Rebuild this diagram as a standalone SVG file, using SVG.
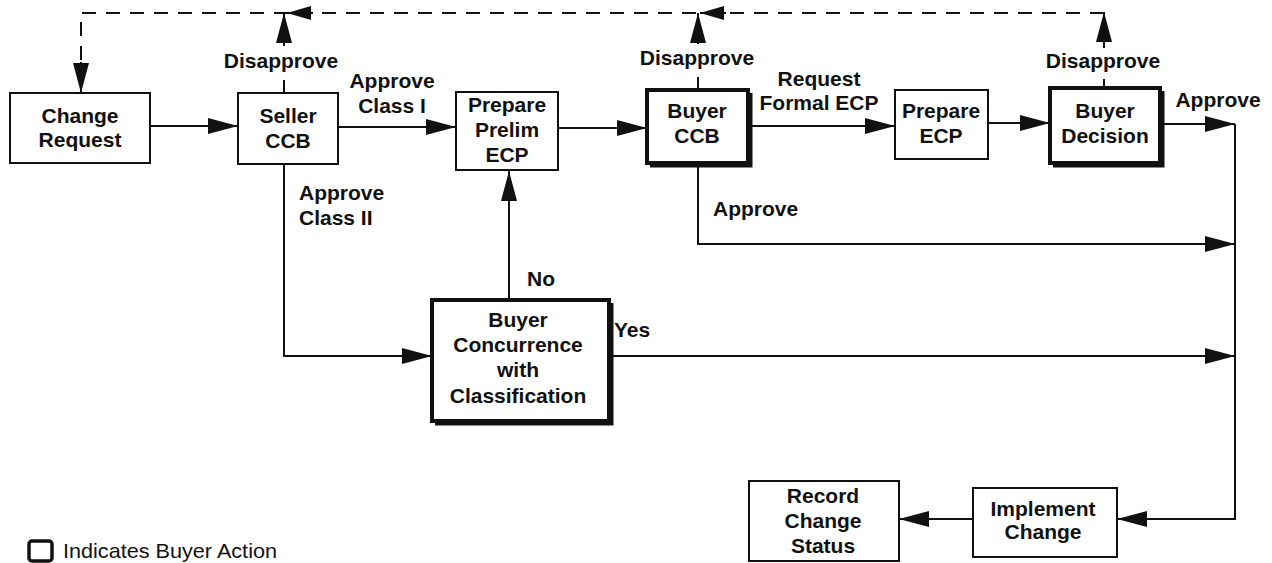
<svg xmlns="http://www.w3.org/2000/svg" width="1272" height="563" viewBox="0 0 1272 563">
<style>
  .t { font-family: "Liberation Sans", Arial, Helvetica, sans-serif; font-weight: bold; font-size: 21px; fill: #111; }
  .c { text-anchor: middle; }
  .box { fill: #fff; stroke: #111; stroke-width: 2; }
  .tbox { fill: #fff; stroke: #111; stroke-width: 4; }
  .shadow { fill: none; stroke: #111; stroke-width: 3; }
  .ln { fill: none; stroke: #111; stroke-width: 2; }
  .dash { fill: none; stroke: #111; stroke-width: 2; stroke-dasharray: 14 10; }
  .arr { marker-end: url(#ah); }
  .arrs { marker-end: url(#ahs); }
  .legend { font-family: "Liberation Sans", Arial, Helvetica, sans-serif; font-size: 21px; fill: #111; }
</style>
<defs>
  <marker id="ah" viewBox="0 0 30 16" markerWidth="30" markerHeight="16" refX="30" refY="8" orient="auto" markerUnits="userSpaceOnUse">
    <path d="M0,0 L30,8 L0,16 Z" fill="#111" stroke="none"/>
  </marker>
  <marker id="ahs" viewBox="0 0 24 14" markerWidth="24" markerHeight="14" refX="24" refY="7" orient="auto" markerUnits="userSpaceOnUse">
    <path d="M0,0 L24,7 L0,14 Z" fill="#111" stroke="none"/>
  </marker>
</defs>
<rect width="1272" height="563" fill="#fff"/>

<g id="connectors">
  <!-- main row -->
  <path class="ln arr" d="M150,126 L238,126"/>
  <path class="ln arr" d="M338,127 L456,127"/>
  <path class="ln arr" d="M558,128 L647,128"/>
  <path class="ln arr" d="M748,126 L895,126"/>
  <path class="ln arr" d="M988,123 L1050,123"/>
  <path class="ln arr" d="M1160,124 L1235,124"/>
  <!-- right trunk -->
  <path class="ln" d="M1235,124 L1235,519 L1145,519"/>
  <path class="ln arr" d="M1150,519 L1117,519"/>
  <path class="ln arr" d="M973,519 L899,519"/>
  <!-- Buyer CCB approve -->
  <path class="ln arr" d="M698,163 L698,244 L1235,244"/>
  <!-- Seller class II -->
  <path class="ln arr" d="M284,164 L284,356 L432,356"/>
  <!-- Yes -->
  <path class="ln arr" d="M609,356 L1235,356"/>
  <!-- No -->
  <path class="ln arr" d="M509,300 L509,171"/>
  <!-- disapprove stubs -->
  <path class="ln" d="M284,93 L284,80"/>
  <path class="ln arr" d="M284,46 L284,13"/>
  <path class="ln" d="M698,90 L698,77"/>
  <path class="ln arr" d="M698,44 L698,13"/>
  <path class="ln" d="M1104,88 L1104,79"/>
  <path class="ln" d="M1104,48 L1104,40"/>
  <path class="ln arr" d="M1104,42 L1104,12"/>
  <!-- dashed feedback -->
  <path class="dash" d="M1104,13 L81,13 L81,66"/>
  <path class="ln arr" d="M81,62 L81,93"/>
  <path class="ln arrs" d="M726,13 L700,13"/>
  <path class="ln arrs" d="M313,13 L287,13"/>
</g>

<g id="change-request">
  <rect class="box" x="10" y="93" width="140" height="70"/>
  <text class="t c" x="80" y="123">Change</text>
  <text class="t c" x="80" y="147">Request</text>
</g>
<g id="seller-ccb">
  <rect class="box" x="238" y="93" width="100" height="71"/>
  <text class="t c" x="288" y="123">Seller</text>
  <text class="t c" x="288" y="148">CCB</text>
</g>
<g id="prepare-prelim-ecp">
  <rect class="box" x="456" y="92" width="102" height="78"/>
  <text class="t c" x="507" y="112">Prepare</text>
  <text class="t c" x="507" y="137">Prelim</text>
  <text class="t c" x="507" y="162">ECP</text>
</g>
<g id="buyer-ccb">
  <path class="shadow" d="M751,93 L751,166 L650,166"/>
  <rect class="tbox" x="647" y="90" width="101" height="73"/>
  <text class="t c" x="697" y="118">Buyer</text>
  <text class="t c" x="697" y="143">CCB</text>
</g>
<g id="prepare-ecp">
  <rect class="box" x="895" y="90" width="93" height="69"/>
  <text class="t c" x="941" y="118">Prepare</text>
  <text class="t c" x="941" y="143">ECP</text>
</g>
<g id="buyer-decision">
  <path class="shadow" d="M1163,91 L1163,166 L1053,166"/>
  <rect class="tbox" x="1050" y="88" width="110" height="75"/>
  <text class="t c" x="1105" y="118">Buyer</text>
  <text class="t c" x="1105" y="143">Decision</text>
</g>
<g id="buyer-concurrence">
  <path class="shadow" d="M612,303 L612,424 L435,424"/>
  <rect class="tbox" x="432" y="300" width="177" height="121"/>
  <text class="t c" x="518" y="327">Buyer</text>
  <text class="t c" x="518" y="352">Concurrence</text>
  <text class="t c" x="518" y="377">with</text>
  <text class="t c" x="518" y="403">Classification</text>
</g>
<g id="implement-change">
  <rect class="box" x="973" y="488" width="144" height="69"/>
  <text class="t c" x="1043" y="516">Implement</text>
  <text class="t c" x="1043" y="539">Change</text>
</g>
<g id="record-change-status">
  <rect class="box" x="749" y="481" width="150" height="80"/>
  <text class="t c" x="823" y="503">Record</text>
  <text class="t c" x="823" y="528">Change</text>
  <text class="t c" x="823" y="553">Status</text>
</g>

<g id="labels">
  <text class="t c" x="281" y="68">Disapprove</text>
  <text class="t c" x="392" y="88">Approve</text>
  <text class="t c" x="392" y="113">Class I</text>
  <text class="t" x="299" y="200">Approve</text>
  <text class="t" x="299" y="225">Class II</text>
  <text class="t" x="527" y="286">No</text>
  <text class="t" x="614" y="337">Yes</text>
  <text class="t c" x="697" y="65">Disapprove</text>
  <text class="t c" x="819" y="86">Request</text>
  <text class="t c" x="819" y="110">Formal ECP</text>
  <text class="t c" x="1103" y="68">Disapprove</text>
  <text class="t c" x="1218" y="107">Approve</text>
  <text class="t" x="713" y="216">Approve</text>
</g>

<g id="legend">
  <rect x="29" y="541" width="23" height="20" rx="3" fill="#fff" stroke="#111" stroke-width="3.5"/>
  <text class="legend" x="63" y="558" textLength="214" lengthAdjust="spacingAndGlyphs">Indicates Buyer Action</text>
</g>
</svg>
